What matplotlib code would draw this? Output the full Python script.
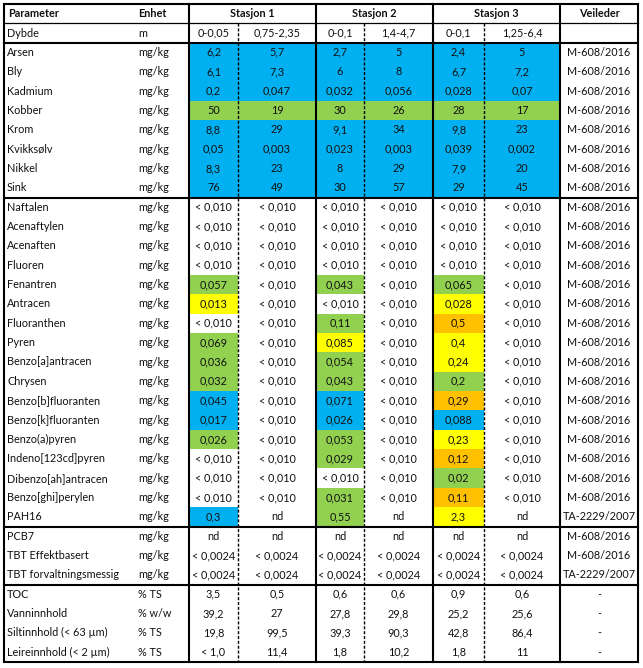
import matplotlib
matplotlib.use('Agg')
import matplotlib.pyplot as plt
from matplotlib.patches import Rectangle

plt.rcParams['font.family'] = ['Lato', 'DejaVu Sans']

# table content
stations = ['Stasjon 1', 'Stasjon 2', 'Stasjon 3']
params = ['Dybde', 'Arsen', 'Bly', 'Kadmium', 'Kobber', 'Krom', 'Kvikksølv', 'Nikkel', 'Sink',
          'Naftalen', 'Acenaftylen', 'Acenaften', 'Fluoren', 'Fenantren', 'Antracen',
          'Fluoranthen', 'Pyren', 'Benzo[a]antracen', 'Chrysen', 'Benzo[b]fluoranten',
          'Benzo[k]fluoranten', 'Benzo(a)pyren', 'Indeno[123cd]pyren', 'Dibenzo[ah]antracen',
          'Benzo[ghi]perylen', 'PAH16', 'PCB7', 'TBT Effektbasert', 'TBT forvaltningsmessig',
          'TOC', 'Vanninnhold', 'Siltinnhold (< 63 µm)', 'Leireinnhold (< 2 µm)']
units = ['m'] + ['mg/kg'] * 28 + ['% TS', '% w/w', '% TS', '% TS']

lt = '< 0,010'
tb = '< 0,0024'
s1_top = ['0-0,05', '6,2', '6,1', '0,2', '50', '8,8', '0,05', '8,3', '76',
          lt, lt, lt, lt, '0,057', '0,013', lt, '0,069', '0,036', '0,032', '0,045', '0,017',
          '0,026', lt, lt, lt, '0,3', 'nd', tb, tb, '3,5', '39,2', '19,8', '< 1,0']
s1_bot = ['0,75-2,35', '5,7', '7,3', '0,047', '19', '29', '0,003', '23', '49'] + [lt] * 16 + \
         ['nd', 'nd', tb, tb, '0,5', '27', '99,5', '11,4']
s2_top = ['0-0,1', '2,7', '6', '0,032', '30', '9,1', '0,023', '8', '30',
          lt, lt, lt, lt, '0,043', lt, '0,11', '0,085', '0,054', '0,043', '0,071', '0,026',
          '0,053', '0,029', lt, '0,031', '0,55', 'nd', tb, tb, '0,6', '27,8', '39,3', '1,8']
s2_bot = ['1,4-4,7', '5', '8', '0,056', '26', '34', '0,003', '29', '57'] + [lt] * 16 + \
         ['nd', 'nd', tb, tb, '0,6', '29,8', '90,3', '10,2']
s3_top = ['0-0,1', '2,4', '6,7', '0,028', '28', '9,8', '0,039', '7,9', '29',
          lt, lt, lt, lt, '0,065', '0,028', '0,5', '0,4', '0,24', '0,2', '0,29', '0,088',
          '0,23', '0,12', '0,02', '0,11', '2,3', 'nd', tb, tb, '0,9', '25,2', '42,8', '1,8']
s3_bot = ['1,25-6,4', '5', '7,2', '0,07', '17', '23', '0,002', '20', '45'] + [lt] * 16 + \
         ['nd', 'nd', tb, tb, '0,6', '25,6', '86,4', '11']
veileder = [''] + ['M-608/2016'] * 24 + ['TA-2229/2007', 'M-608/2016', 'M-608/2016',
                                          'TA-2229/2007', '-', '-', '-', '-']

# condition class per cell: b=blue, g=green, y=yellow, o=orange, '' = none
metal_cls = ['', 'b', 'b', 'b', 'g', 'b', 'b', 'b', 'b']
c1_top = metal_cls + ['', '', '', '', 'g', 'y', '', 'g', 'g', 'g', 'b', 'b', 'g', '', '', '', 'b'] + [''] * 7
c1_bot = metal_cls + [''] * 24
c2_top = metal_cls + ['', '', '', '', 'g', '', 'g', 'y', 'g', 'g', 'b', 'b', 'g', 'g', '', 'g', 'g'] + [''] * 7
c2_bot = metal_cls + [''] * 24
c3_top = metal_cls + ['', '', '', '', 'g', 'y', 'o', 'y', 'y', 'g', 'o', 'b', 'y', 'o', 'g', 'o', 'y'] + [''] * 7
c3_bot = metal_cls + [''] * 24

palette = {'b': '#00B0F0', 'g': '#92D050', 'y': '#FFFF00', 'o': '#FFC000'}

# layout (pixels)
W, H = 643, 668
top, bottom = 4, 662
nrows = len(params) + 1
rh = (bottom - top) / nrows
col_edges = [189, 238, 316, 364, 433, 484, 560, 638]
left = 4

fig = plt.figure(figsize=(W / 100, H / 100), dpi=100)
ax = fig.add_axes([0, 0, 1, 1])
ax.set_xlim(0, W)
ax.set_ylim(H, 0)
ax.axis('off')

fs = 7.8
txt = '#111111'
cols = [(s1_top, c1_top), (s1_bot, c1_bot), (s2_top, c2_top),
        (s2_bot, c2_bot), (s3_top, c3_top), (s3_bot, c3_bot)]

# header
yc = top + rh / 2
ax.text(8, yc, 'Parameter', fontsize=fs, fontweight='bold', va='center', ha='left', color=txt)
ax.text(138, yc, 'Enhet', fontsize=fs, fontweight='bold', va='center', ha='left', color=txt)
for k, st in enumerate(stations):
    x0, x1 = col_edges[2 * k], col_edges[2 * k + 2]
    ax.text((x0 + x1) / 2, yc, st, fontsize=fs, fontweight='bold', va='center', ha='center', color=txt)
ax.text((col_edges[6] + col_edges[7]) / 2, yc, 'Veileder', fontsize=fs, fontweight='bold',
        va='center', ha='center', color=txt)

# body
for i, p in enumerate(params):
    y0 = top + (i + 1) * rh
    yc = y0 + rh / 2
    ax.text(7, yc, p, fontsize=fs, va='center', ha='left', color=txt)
    ax.text(138, yc, units[i], fontsize=fs, va='center', ha='left', color=txt)
    for j, (vals, cls) in enumerate(cols):
        x0, x1 = col_edges[j], col_edges[j + 1]
        if cls[i]:
            ax.add_patch(Rectangle((x0, y0), x1 - x0, rh, facecolor=palette[cls[i]],
                                   edgecolor='none', zorder=1))
        ax.text((x0 + x1) / 2, yc, vals[i], fontsize=fs, va='center', ha='center',
                zorder=3, color=txt)
    ax.text((col_edges[6] + col_edges[7]) / 2, yc, veileder[i], fontsize=fs,
            va='center', ha='center', zorder=3, color=txt)

# grid lines
thick = 1.5
ax.plot([left, col_edges[-1], col_edges[-1], left, left], [top, top, bottom, bottom, top],
        color='black', lw=thick, zorder=4, solid_joinstyle='miter')
ax.plot([left, col_edges[-1]], [top + rh, top + rh], color='black', lw=0.9, zorder=4)
for r in [2, 10, 27, 30]:
    y = top + r * rh
    ax.plot([left, col_edges[-1]], [y, y], color='black', lw=thick, zorder=4)
for x in [189, 316, 433, 560]:
    ax.plot([x, x], [top, bottom], color='black', lw=thick, zorder=4)
for x in [238, 364, 484]:
    ax.plot([x, x], [top + rh, bottom], color='black', lw=1.0, ls=(0, (2.2, 1.3)), zorder=4)

fig.savefig('out.png', dpi=100)
